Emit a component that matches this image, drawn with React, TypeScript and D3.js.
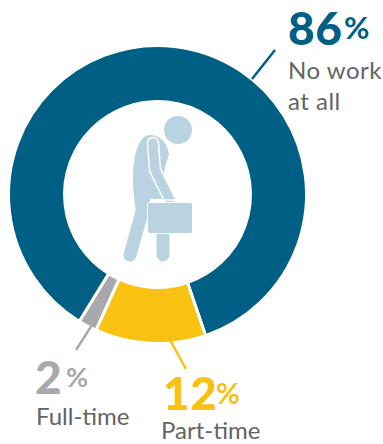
import React from "react";
import * as d3 from "d3";

const categories = ["No work at all", "Part-time", "Full-time"];
const shares = [86, 12, 2];
const colors = ["#005f85", "#f9c112", "#a7a9ac"];

const width = 383;
const height = 444;
const cx = 157.5;
const cy = 194.5;
const outerR = 149;
const innerR = 93;
const startDeg = 211.6;

const FONT = "Lato, sans-serif";
const TEXT = "#636466";
const ICON = "#b9d3e0";

type Callout = {
  share: number;
  color: string;
  lines: string[];
  numX: number;
  numY: number;
  pctX: number;
  pctY: number;
  pctSize: number;
  labelX: number;
  labelY: number;
  tracking: number;
  leader: [number, number, number, number];
};

const callouts: Callout[] = [
  { share: shares[0], color: colors[0], lines: ["No work", "at all"], numX: 288, numY: 45, pctX: 344, pctY: 39, pctSize: 31, labelX: 288, labelY: 79, tracking: 0.5, leader: [252, 79, 275, 50] },
  { share: shares[1], color: colors[1], lines: ["Part-time"], numX: 163, numY: 410, pctX: 216, pctY: 404, pctSize: 29, labelX: 161, labelY: 439, tracking: 0, leader: [170, 340, 186, 369] },
  { share: shares[2], color: colors[2], lines: ["Full-time"], numX: 35, numY: 394, pctX: 66, pctY: 387, pctSize: 27, labelX: 36, labelY: 425, tracking: 0, leader: [92, 325, 76, 350] },
];

export default function App() {
  const pie = d3
    .pie<number>()
    .sort(null)
    .startAngle((startDeg * Math.PI) / 180)
    .endAngle((startDeg * Math.PI) / 180 + 2 * Math.PI);
  const arc = d3
    .arc<d3.PieArcDatum<number>>()
    .innerRadius(innerR)
    .outerRadius(outerR);
  const slices = pie(shares);

  return (
    <svg
      width={width}
      height={height}
      viewBox={`0 0 ${width} ${height}`}
      style={{ position: "absolute", left: 0, top: 0, background: "#fff" }}
    >
      <g transform={`translate(${cx},${cy})`}>
        {slices.map((s, i) => (
          <path key={categories[i]} d={arc(s) ?? ""} fill={colors[i]} stroke="#fff" strokeWidth={3} />
        ))}
      </g>

      {/* Worker carrying a briefcase */}
      <g>
        <circle cx={178} cy={130} r={14} fill={ICON} />
        <path
          d="M150 135 C141 135 136 148 134 162 C132 176 133 192 136 212 L148 212 L150 199 L165 199 C160 185 165 165 169 155 C168 143 160 135 150 135 Z"
          fill={ICON}
        />
        <path d="M143 208 L130 255" stroke={ICON} strokeWidth={13} strokeLinecap="round" fill="none" />
        <path d="M163 232 L163 255" stroke={ICON} strokeWidth={13} strokeLinecap="round" fill="none" />
        <path
          d="M153 143 L155 170 L170 200"
          stroke="#fff"
          strokeWidth={12.5}
          strokeLinecap="round"
          strokeLinejoin="round"
          fill="none"
        />
        <path
          d="M153 143 L155 170 L170 200"
          stroke={ICON}
          strokeWidth={9.5}
          strokeLinecap="round"
          strokeLinejoin="round"
          fill="none"
        />
        <path d="M161 203 L163 200 L174 200 L176 203" stroke="#fff" strokeWidth={1.5} fill="none" />
        <rect x={147.5} y={202.5} width={45} height={31} rx={2.5} fill={ICON} stroke="#fff" strokeWidth={1} />
      </g>

      {callouts.map((c) => (
        <g key={c.lines[0]}>
          <line x1={c.leader[0]} y1={c.leader[1]} x2={c.leader[2]} y2={c.leader[3]} stroke={c.color} strokeWidth={2.5} />
          <text x={c.numX} y={c.numY} fontFamily={FONT} fontWeight={900} fontSize={46} letterSpacing={0.5} fill={c.color}>
            {c.share}
          </text>
          <text x={c.pctX} y={c.pctY} fontFamily={FONT} fontWeight={700} fontSize={c.pctSize} fill={c.color}>
            %
          </text>
          {c.lines.map((line, j) => (
            <text key={line} x={c.labelX} y={c.labelY + j * 31} fontFamily={FONT} fontSize={24} letterSpacing={c.tracking} fill={TEXT}>
              {line}
            </text>
          ))}
        </g>
      ))}
    </svg>
  );
}
